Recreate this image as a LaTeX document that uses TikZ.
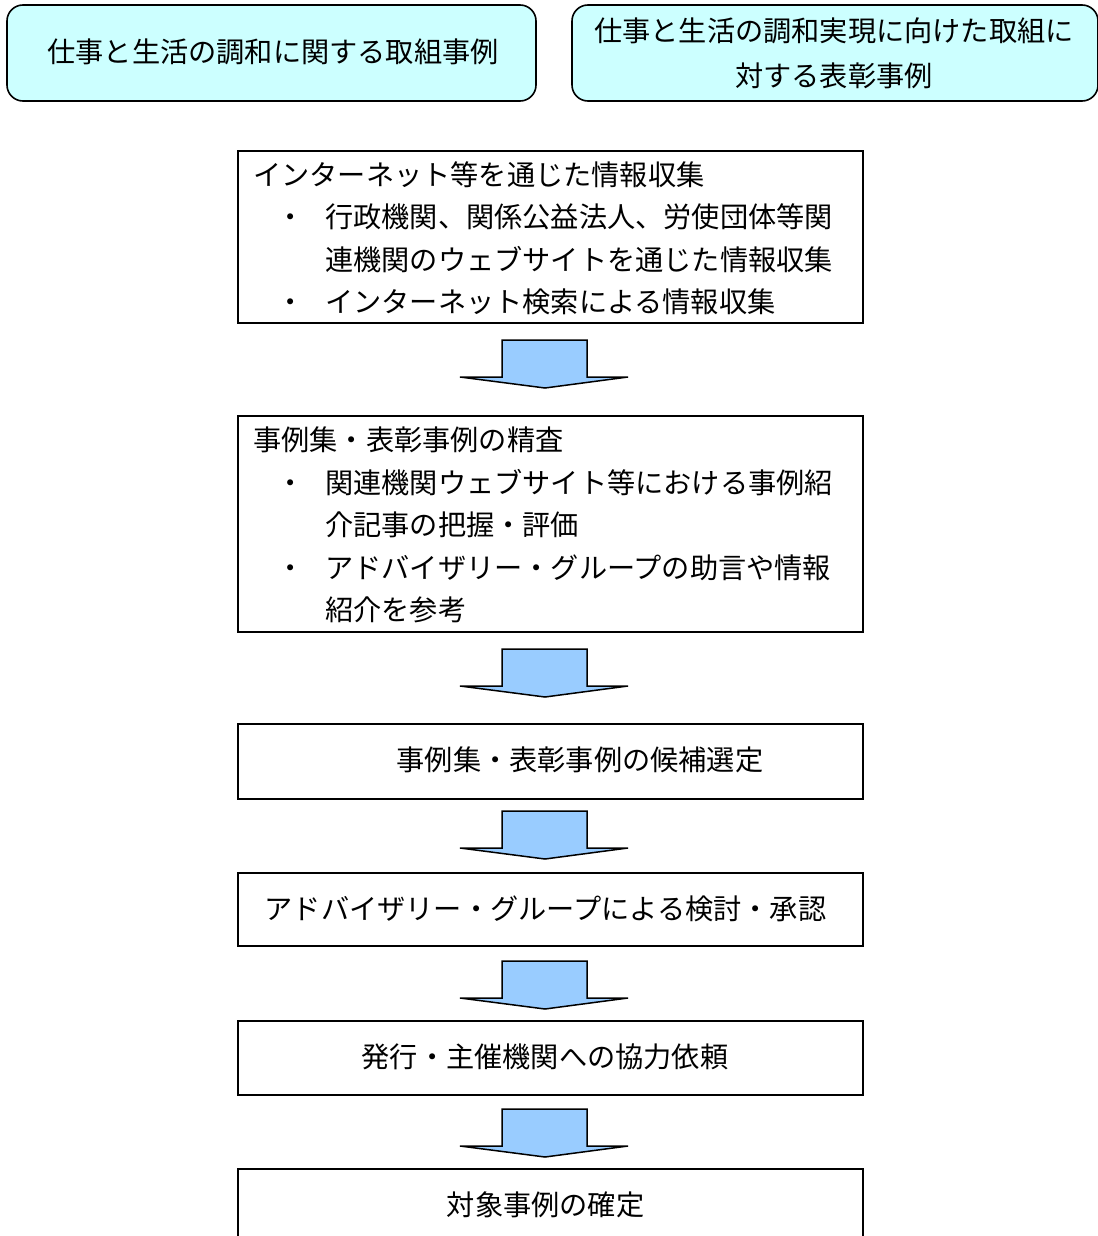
\documentclass[tikz,border=0pt]{standalone}
\usepackage{fontspec}
\newfontfamily\jp{Noto Sans CJK JP}
\definecolor{topfill}{HTML}{CCFFFF}
\definecolor{arrfill}{HTML}{99CCFF}
\begin{document}
\begin{tikzpicture}[x=1pt,y=-1pt,
  font=\jp\fontsize{28.2}{42}\selectfont,
  topbox/.style={draw=black,line width=1.6pt,fill=topfill,rounded corners=16pt},
  stepbox/.style={draw=black,line width=1.8pt},
  line/.style={anchor=base west,inner sep=0pt},
  bul/.style={anchor=base,inner sep=0pt},
  ctext/.style={anchor=base,inner sep=0pt},
  blockarrow/.style={draw=black,line width=1.5pt,fill=arrfill,line join=miter}]
\useasboundingbox (0,0) rectangle (1097,1236);
% top rounded boxes
\draw[topbox] (7,5) rectangle (536,101);
\node[ctext] (t1) at (273,62.5) {仕事と生活の調和に関する取組事例};
\draw[topbox] (572,5) rectangle (1098,101);
\node[ctext] (t2a) at (834,41.5) {仕事と生活の調和実現に向けた取組に};
\node[ctext] (t2b) at (834,86.5) {対する表彰事例};
% box 1
\node[stepbox,minimum width=625pt,minimum height=172pt,anchor=north west,inner sep=0pt] (b1) at (237,150) {};
\node[line] (b1l1) at (253,185.5) {インターネット等を通じた情報収集};
\node[bul] (b1d1) at (291,227.5) {・};
\node[line] (b1l2) at (325,227.5) {行政機関、関係公益法人、労使団体等関};
\node[line] (b1l3) at (325,270.5) {連機関のウェブサイトを通じた情報収集};
\node[bul] (b1d2) at (291,312.5) {・};
\node[line] (b1l4) at (325,312.5) {インターネット検索による情報収集};
% box 2
\node[stepbox,minimum width=625pt,minimum height=216pt,anchor=north west,inner sep=0pt] (b2) at (237,415) {};
\node[line] (b2l1) at (253,450.5) {事例集・表彰事例の精査};
\node[bul] (b2d1) at (291,493.5) {・};
\node[line] (b2l2) at (325,493.5) {関連機関ウェブサイト等における事例紹};
\node[line] (b2l3) at (325,535.5) {介記事の把握・評価};
\node[bul] (b2d2) at (291,578.5) {・};
\node[line] (b2l4) at (325,578.5) {アドバイザリー・グループの助言や情報};
\node[line] (b2l5) at (325,620.5) {紹介を参考};
% box 3
\node[stepbox,minimum width=625pt,minimum height=75pt,anchor=north west,inner sep=0pt] (b3) at (237,723) {};
\node[ctext] (b3t) at (580,770.5) {事例集・表彰事例の候補選定};
% box 4
\node[stepbox,minimum width=625pt,minimum height=73pt,anchor=north west,inner sep=0pt] (b4) at (237,872) {};
\node[ctext] (b4t) at (545.5,919.5) {アドバイザリー・グループによる検討・承認};
% box 5
\node[stepbox,minimum width=625pt,minimum height=74pt,anchor=north west,inner sep=0pt] (b5) at (237,1020) {};
\node[ctext] (b5t) at (545,1067.5) {発行・主催機関への協力依頼};
% box 6
\node[stepbox,minimum width=625pt,minimum height=90pt,anchor=north west,inner sep=0pt] (b6) at (237,1168) {};
\node[ctext] (b6t) at (545.5,1215.5) {対象事例の確定};
% block arrows
\foreach \t in {340,649,811,961,1109}{
  \draw[blockarrow] (502,\t) -- (587,\t) -- (587,\t+37) -- (628,\t+37) -- (545,\t+48) -- (460,\t+37) -- (502,\t+37) -- cycle;
}
\end{tikzpicture}
\end{document}
